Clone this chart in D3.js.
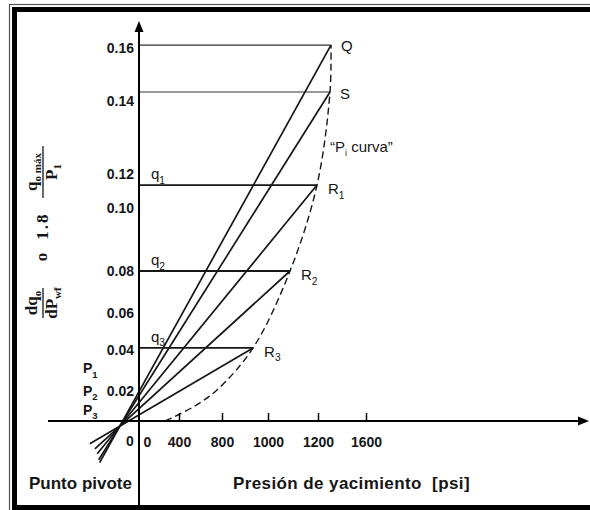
<!DOCTYPE html>
<html><head><meta charset="utf-8">
<script src="https://cdn.jsdelivr.net/npm/d3@7"></script>
<style>body{margin:0;background:#fff}svg text{white-space:pre}</style>
</head><body>
<svg id="chart" width="590" height="510"></svg>
<script>
// ---------------- data ----------------
const xTicks = [0, 400, 800, 1000, 1200, 1600];
const yTicks = [0, 0.02, 0.04, 0.06, 0.08, 0.10, 0.12, 0.14, 0.16];
const yTickLabels = ["0", "0.02", "0.04", "0.06", "0.08", "0.10", "0.12", "0.14", "0.16"];
const endNames = ["Q", "S", "R", "R", "R"];
const endSubs = ["", "", "1", "2", "3"];
const endPressure = [1308, 1300, 1196, 1088, 935];
const endRate = [0.1611, 0.1434, 0.1135, 0.08, 0.0411];
const levelNames = ["", "", "q", "q", "q"];
const levelSubs = ["", "", "1", "2", "3"];
const pivotPressure = -190;
const pivotRate = -0.0033;
const curvePressure = [262, 530, 753, 935, 1088, 1196, 1300, 1308];
const curveRate = [0, 0.0093, 0.0205, 0.0411, 0.08, 0.1135, 0.1434, 0.1611];
const interceptNames = ["P", "P", "P"];
const interceptSubs = ["1", "2", "3"];
const interceptRate = [0.031, 0.02, 0.0075];

// ---------------- layout (sketch axes are not evenly spaced) ----------------
const W = 590, H = 510;
const xRange = [139, 179, 222, 268, 318, 366];
const yRange = [421, 391, 350, 313, 271, 208, 174, 101, 48];
const x = d3.scaleLinear().domain(xTicks).range(xRange);
const y = d3.scaleLinear().domain(yTicks).range(yRange);
const tailLen = [42, 40, 36, 34, 35];
const ink = "#161616";
const sans = "'Liberation Sans', Arial, sans-serif";
const serif = "'Liberation Serif', 'Times New Roman', serif";

const svg = d3.select("#chart");
svg.append("rect").attr("width", W).attr("height", H).attr("fill", "#fff");

// frame
svg.append("rect").attr("x", 9.5).attr("y", 4.5).attr("width", W).attr("height", H)
  .attr("fill", "none").attr("stroke", "#555").attr("stroke-width", 1.2);
svg.append("rect").attr("x", 14.5).attr("y", 9.5).attr("width", W).attr("height", 498)
  .attr("fill", "none").attr("stroke", "#000").attr("stroke-width", 5);

// horizontal level lines
const ends = endPressure.map((p, i) => ({p, r: endRate[i], i}));
svg.append("g").selectAll("line").data(ends).join("line")
  .attr("x1", x(0)).attr("x2", d => x(d.p))
  .attr("y1", d => y(d.r)).attr("y2", d => y(d.r))
  .attr("stroke", d => d.i < 2 ? "#333" : ink)
  .attr("stroke-width", d => d.i < 2 ? 1.1 : 1.8);

// radial lines through the pivot
const P = [x(pivotPressure), y(pivotRate)];
svg.append("g").selectAll("line").data(ends).join("line")
  .each(function(d) {
    const E = [x(d.p), y(d.r)];
    const dx = P[0] - E[0], dy = P[1] - E[1];
    const L = Math.hypot(dx, dy);
    d3.select(this)
      .attr("x1", P[0] + dx / L * tailLen[d.i]).attr("y1", P[1] + dy / L * tailLen[d.i])
      .attr("x2", E[0]).attr("y2", E[1]);
  })
  .attr("stroke", ink).attr("stroke-width", 1.7);

// dashed Pi curve
const curvePts = curvePressure.map((p, i) => [p, curveRate[i]]);
svg.append("path").datum(curvePts)
  .attr("d", d3.line().x(d => x(d[0])).y(d => y(d[1])).curve(d3.curveCatmullRom.alpha(0.5)))
  .attr("fill", "none").attr("stroke", ink).attr("stroke-width", 1.4)
  .attr("stroke-dasharray", "7,4");

// axes lines with arrows
const ax = svg.append("g");
ax.append("line").attr("x1", x(0)).attr("x2", x(0)).attr("y1", 506).attr("y2", 28)
  .attr("stroke", "#000").attr("stroke-width", 2);
ax.append("path").attr("d", `M${x(0)},21 L${x(0) - 4.5},32 L${x(0) + 4.5},32 Z`).attr("fill", "#000");
ax.append("line").attr("x1", 48).attr("x2", 582).attr("y1", y(0)).attr("y2", y(0))
  .attr("stroke", "#000").attr("stroke-width", 2);
ax.append("path").attr("d", `M589,${y(0)} L578,${y(0) - 4.5} L578,${y(0) + 4.5} Z`).attr("fill", "#000");

// x axis ticks/labels
const xAxis = svg.append("g").attr("transform", `translate(0,${y(0)})`)
  .call(d3.axisBottom(x).tickValues(xTicks).tickFormat(d3.format("d")).tickSizeInner(-8).tickSizeOuter(0).tickPadding(16));
xAxis.select(".domain").remove();
xAxis.selectAll(".tick line").attr("stroke", "#000").attr("stroke-width", 1.5);
xAxis.selectAll(".tick").filter(d => d === 0).select("line").remove();
xAxis.selectAll(".tick text").attr("font-family", sans).attr("font-weight", "bold")
  .attr("font-size", 14).attr("fill", ink)
  .attr("dx", d => d === 0 ? 8 : 0);

// y axis labels
const yAxis = svg.append("g").attr("transform", `translate(${x(0)},0)`)
  .call(d3.axisLeft(y).tickValues(yTicks.slice(1)).tickFormat((d, i) => yTickLabels[i + 1]).tickSize(0).tickPadding(5));
yAxis.select(".domain").remove();
yAxis.selectAll(".tick text").attr("font-family", sans).attr("font-weight", "bold")
  .attr("font-size", 14).attr("fill", ink);
svg.append("text").attr("x", x(0) - 9).attr("y", y(0) + 25).attr("text-anchor", "middle")
  .attr("font-family", sans).attr("font-weight", "bold").attr("font-size", 14).attr("fill", ink)
  .text(yTickLabels[0]);

// helper: text with subscript
function subLabel(g, px, py, base, sub, size, weight, anchor) {
  const t = g.append("text").attr("x", px).attr("y", py)
    .attr("font-family", sans).attr("font-size", size).attr("font-weight", weight || "normal")
    .attr("fill", ink).attr("text-anchor", anchor || "start");
  t.append("tspan").text(base);
  if (sub) t.append("tspan").attr("dy", size * 0.3).attr("font-size", size * 0.68).text(sub);
  return t;
}

// endpoint labels
const lab = svg.append("g");
ends.forEach(d => {
  const off = d.i < 2 ? [10, 7] : [11, 9];
  subLabel(lab, x(d.p) + off[0], y(d.r) + off[1] - (d.i === 0 ? 1 : 0), endNames[d.i], endSubs[d.i], 15, "normal");
  if (levelNames[d.i]) subLabel(lab, x(0) + 12, y(d.r) - 6, levelNames[d.i], levelSubs[d.i], 15, "normal");
});

// intercept labels P1..P3
interceptRate.forEach((r, i) => {
  subLabel(lab, 83, y(r) + 5, interceptNames[i], interceptSubs[i], 14, "bold");
});

// P_i curva label
const pc = lab.append("text").attr("x", 330).attr("y", 152).attr("font-family", sans)
  .attr("font-size", 15).attr("fill", ink);
pc.append("tspan").text("\u201CP");
pc.append("tspan").attr("dy", 4).attr("font-size", 9).text("i");
pc.append("tspan").attr("dy", -4).text(" curva\u201D");

// bottom titles
lab.append("text").attr("x", 29).attr("y", 489).attr("font-family", sans).attr("font-weight", "bold")
  .attr("font-size", 17).attr("fill", ink).text("Punto pivote");
lab.append("text").attr("x", 233).attr("y", 489).attr("font-family", sans).attr("font-weight", "bold")
  .attr("font-size", 17).attr("letter-spacing", 0.4).attr("fill", ink).text("Presión de yacimiento  [psi]");

// rotated y-axis math label
const m = svg.append("g").attr("transform", "translate(43,231) rotate(-90)")
  .attr("font-family", serif).attr("font-weight", "bold").attr("fill", ink);
function frac(cx, w, num, numSub, den, denSub) {
  m.append("line").attr("x1", cx - w / 2).attr("x2", cx + w / 2).attr("y1", 0).attr("y2", 0)
    .attr("stroke", ink).attr("stroke-width", 1.3);
  const n = m.append("text").attr("x", cx).attr("y", -6).attr("text-anchor", "middle").attr("font-size", 17);
  n.append("tspan").text(num);
  n.append("tspan").attr("dy", 4).attr("font-size", 11).text(numSub);
  const dd = m.append("text").attr("x", cx).attr("y", 14).attr("text-anchor", "middle").attr("font-size", 17);
  dd.append("tspan").text(den);
  dd.append("tspan").attr("dy", 4).attr("font-size", 11).text(denSub);
}
frac(-72, 30, "dq", "o", "dP", "wf");
m.append("text").attr("x", -26).attr("y", 4).attr("text-anchor", "middle").attr("font-size", 17).text("o");
m.append("text").attr("x", 5).attr("y", 5).attr("text-anchor", "middle").attr("font-size", 17)
  .attr("letter-spacing", 2).text("1.8");
frac(59, 52, "q", "o máx", "P", "1");
</script>
</body></html>
